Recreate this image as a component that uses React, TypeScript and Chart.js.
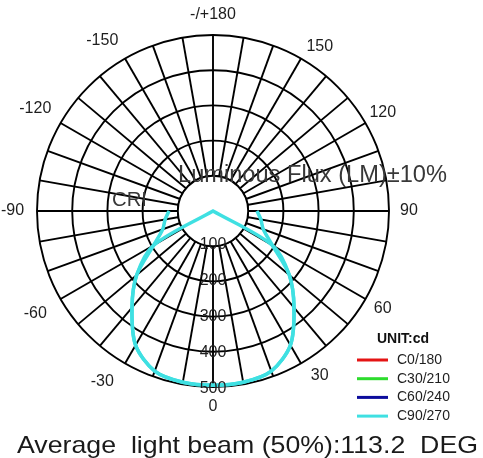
import { useEffect, useRef } from 'react';
import { Chart, registerables } from 'chart.js';

Chart.register(...registerables);

// C-plane angles (degrees), clockwise starting at the top of the diagram
const cAngles = [180, 170, 160, 150, 140, 130, 120, 110, 100, 90, 80, 70, 60, 50, 40, 30, 20, 10, 0,
  -10, -20, -30, -40, -50, -60, -70, -80, -90, -100, -110, -120, -130, -140, -150, -160, -170];
const angleTickLabels = ['-/+180', '', '', '150', '', '', '120', '', '', '90', '', '', '60', '', '', '30', '', '', '0',
  '', '', '-30', '', '', '-60', '', '', '-90', '', '', '-120', '', '', '-150', '', ''];
const ringValues = [100, 200, 300, 400, 500];

const seriesNames = ['C0/180', 'C30/210', 'C60/240', 'C90/270'];
const seriesColors = ['#e41414', '#2ddc2d', '#0c0c9c', '#3fe0e2'];

// luminous intensity (cd), one value per entry of cAngles (null = not plotted)
const c0Values = [null, null, null, null, null, null, null, null, null, 125, 138, 152, 195, 283, 358, 440, 484, 494, 495,
  494, 484, 440, 358, 283, 195, 152, 138, 125, null, null, null, null, null, null, null, null];
const c30Values = [null, null, null, null, null, null, null, null, null, 125, 138, 152, 195, 283, 358, 440, 484, 494, 495,
  494, 484, 440, 358, 283, 195, 152, 138, 125, null, null, null, null, null, null, null, null];
const c60Values = [null, null, null, null, null, null, null, null, null, 125, 138, 152, 195, 283, 358, 440, 484, 494, 495,
  494, 484, 440, 358, 283, 195, 152, 138, 125, null, null, null, null, null, null, null, null];
const c90Values = [null, null, null, null, null, null, null, null, null, 125, 138, 152, 195, 283, 358, 440, 484, 494, 495,
  494, 484, 440, 358, 283, 195, 152, 138, 125, null, null, null, null, null, null, null, null];
const c270Values = [0, 0, 0, 0, 0, 0, 0, 0, 0, 0, 0, 0, 195, 283, 358, 440, 484, 494, 495,
  494, 484, 440, 358, 283, 195, 0, 0, 0, 0, 0, 0, 0, 0, 0, 0, 0];

const unitText = 'UNIT:cd';
const fluxText = 'Luminous Flux (LM)\u00b110%';
const criText = 'CRI';
const beamText = 'Average  light beam (50%):113.2  DEG';

const FONT = '"Liberation Sans", Arial, Helvetica, sans-serif';
const GRID = '#000';
const GRID_W = 1.9;

function fitText(ctx: CanvasRenderingContext2D, text: string, x: number, y: number, width: number) {
  const w = ctx.measureText(text).width;
  ctx.save();
  ctx.translate(x, y);
  ctx.scale(width / w, 1);
  ctx.fillText(text, 0, 0);
  ctx.restore();
}

const overlayPlugin = {
  id: 'photometricOverlay',
  beforeDatasetsDraw(chart: any) {
    const s = chart.scales.r;
    const ctx: CanvasRenderingContext2D = chart.ctx;
    const r0 = s.getDistanceFromCenterForValue(ringValues[0]);
    ctx.save();
    ctx.beginPath();
    ctx.arc(s.xCenter, s.yCenter, r0, 0, Math.PI * 2);
    ctx.fillStyle = '#fff';
    ctx.fill();
    ctx.lineWidth = GRID_W;
    ctx.strokeStyle = GRID;
    ctx.stroke();
    ctx.restore();
  },
  afterDatasetsDraw(chart: any) {
    const s = chart.scales.r;
    const ctx: CanvasRenderingContext2D = chart.ctx;
    ctx.save();
    ctx.fillStyle = '#1e1e1e';
    ctx.font = `16px ${FONT}`;
    ctx.textAlign = 'center';
    ctx.textBaseline = 'middle';
    // radial tick labels along the 0 degree spoke
    const zeroIdx = cAngles.indexOf(0);
    ringValues.forEach((v, k) => {
      const p = s.getPointPosition(zeroIdx, s.getDistanceFromCenterForValue(v));
      ctx.fillText(String(v), p.x, p.y - 2 + k);
    });
    // angle labels around the outer ring
    const R = s.drawingArea;
    angleTickLabels.forEach((lab, i) => {
      if (!lab) return;
      let phi = (180 - cAngles[i]) % 360; // clockwise from top
      const m = phi % 180;
      if (m === 30) phi += 3;
      if (m === 150) phi -= 3;
      const neg = lab.startsWith('-') && lab !== '-/+180';
      const rad = (phi * Math.PI) / 180;
      const d = R + 20 + (neg ? 4 + 6 * Math.abs(Math.sin(rad)) : 0);
      const w = ctx.measureText(lab).width;
      let x = s.xCenter + d * Math.sin(rad);
      x = Math.max(x, w / 2 + 1);
      ctx.fillText(lab, x, s.yCenter - d * Math.cos(rad));
    });
    // annotations
    ctx.textAlign = 'left';
    ctx.textBaseline = 'alphabetic';
    ctx.fillStyle = '#383838';
    ctx.font = `23px ${FONT}`;
    fitText(ctx, fluxText, 178, 182, 269);
    ctx.font = `20px ${FONT}`;
    fitText(ctx, criText, 112, 206, 35);
    // legend
    ctx.fillStyle = '#111';
    ctx.font = `bold 14px ${FONT}`;
    ctx.textBaseline = 'middle';
    ctx.fillText(unitText, 377, 339);
    ctx.font = `14px ${FONT}`;
    seriesNames.forEach((name, i) => {
      const y = 360 + i * 18.7;
      ctx.strokeStyle = seriesColors[i];
      ctx.lineWidth = 3;
      ctx.beginPath();
      ctx.moveTo(357, y);
      ctx.lineTo(388, y);
      ctx.stroke();
      ctx.fillStyle = '#1e1e1e';
      ctx.fillText(name, 397, y);
    });
    // bottom caption
    ctx.textBaseline = 'alphabetic';
    ctx.fillStyle = '#1a1a1a';
    ctx.font = `24px ${FONT}`;
    fitText(ctx, beamText, 17, 453, 461);
    ctx.restore();
  },
};

export default function App() {
  const ref = useRef<HTMLCanvasElement>(null);
  useEffect(() => {
    const mk = (label: string, data: (number | null)[], color: string, order: number, width: number) => ({
      label,
      data,
      borderColor: color,
      backgroundColor: color,
      borderWidth: width,
      fill: false,
      order,
      pointRadius: 0,
      pointHoverRadius: 0,
      tension: 0.3,
      spanGaps: false,
    });
    const chart = new Chart(ref.current as HTMLCanvasElement, {
      type: 'radar',
      data: {
        labels: angleTickLabels,
        datasets: [
          mk(seriesNames[0], c0Values, seriesColors[0], 4, 2),
          mk(seriesNames[1], c30Values, seriesColors[1], 3, 2),
          mk(seriesNames[2], c60Values, seriesColors[2], 2, 2),
          mk(seriesNames[3], c90Values, seriesColors[3], 1, 3.5),
          mk(seriesNames[3], c270Values, seriesColors[3], 0, 3.5),
        ],
      },
      options: {
        responsive: false,
        animation: false,
        layout: { padding: { left: 37, right: 94, top: 35, bottom: 71 } },
        plugins: {
          legend: { display: false },
          tooltip: { enabled: false },
          title: { display: false },
        },
        scales: {
          r: {
            min: 0,
            max: 500,
            startAngle: 0,
            ticks: { display: false, stepSize: 100 },
            grid: { circular: true, color: GRID, lineWidth: GRID_W },
            angleLines: { display: true, color: GRID, lineWidth: GRID_W },
            pointLabels: { display: false },
          },
        },
      } as any,
      plugins: [overlayPlugin],
    });
    return () => chart.destroy();
  }, []);
  return (
    <div style={{ position: 'absolute', left: 0, top: 0, width: 483, height: 458, background: '#fff' }}>
      <canvas ref={ref} width={483} height={458} style={{ display: 'block' }} />
    </div>
  );
}
